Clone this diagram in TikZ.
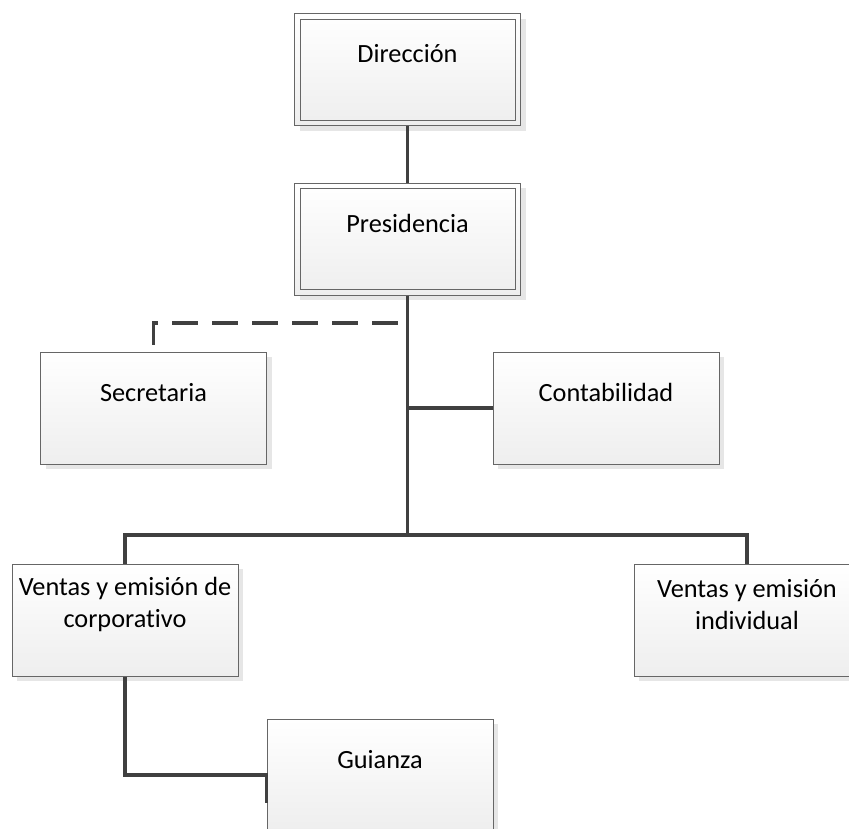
\documentclass[tikz,border=0pt]{standalone}
\usepackage{fontspec}
\setmainfont{Carlito}[Ligatures=NoCommon]
\usetikzlibrary{shadows}
\definecolor{bordercol}{HTML}{666666}
\definecolor{conncol}{HTML}{404040}
\definecolor{boxgray}{HTML}{EEEEEE}
\definecolor{shadowcol}{HTML}{E6E6E6}
\begin{document}
\begin{tikzpicture}[x=1pt,y=-1pt,
  orgbox/.style={rectangle, draw=bordercol, line width=1pt,
    minimum width=226pt, minimum height=112pt, inner sep=0pt,
    top color=white, bottom color=boxgray,
    drop shadow={shadow xshift=5pt, shadow yshift=-5pt, opacity=1, fill=shadowcol}},
  boxlabel/.style={anchor=center, yshift=-41pt, align=center, inner sep=0pt,
    text=black, font=\fontsize{26.3}{32}\selectfont},
  conn/.style={draw=conncol, line width=3.2pt},
  dashconn/.style={draw=conncol, line width=3.2pt, dash pattern=on 26pt off 14pt}
]
\clip (0,0) rectangle (849,828);
\fill[white] (0,0) rectangle (849,828);

% boxes
\node[orgbox, label={[boxlabel]north:Dirección}] (dir) at (407.5,69.5) {};
\draw[bordercol, line width=1pt] ([shift={(6pt,-6pt)}]dir.north west) rectangle ([shift={(-6pt,6pt)}]dir.south east);
\node[orgbox, label={[boxlabel]north:Presidencia}] (pres) at (407.5,239) {};
\draw[bordercol, line width=1pt] ([shift={(6pt,-6pt)}]pres.north west) rectangle ([shift={(-6pt,6pt)}]pres.south east);
\node[orgbox, label={[boxlabel]north:Secretaria}] (sec) at (153.5,408) {};
\node[orgbox, label={[boxlabel]north:Contabilidad}] (cont) at (606,408) {};
\node[orgbox, label={[boxlabel]north:Ventas y emisión de\\corporativo}] (vc) at (125,620) {};
\node[orgbox, label={[boxlabel]north:Ventas y emisión\\individual}] (vi) at (747,620) {};
\node[orgbox, label={[boxlabel]north:Guianza}] (gui) at (380,775) {};

% connectors
\coordinate (bar) at (407.5,535);
\coordinate (dsh) at (407.5,323);
\draw[conn] (dir.south) -- (pres.north);
\draw[conn] (pres.south) -- (bar);
\draw[conn] (pres.south |- cont.west) -- (cont.west);
\draw[conn] (vc.north) |- (bar) -| (vi.north);
\draw[conn] (vc.south) |- (gui.west) -- ++(0,28);
\draw[dashconn] ([yshift=7pt]sec.north) |- (dsh);
\end{tikzpicture}
\end{document}
